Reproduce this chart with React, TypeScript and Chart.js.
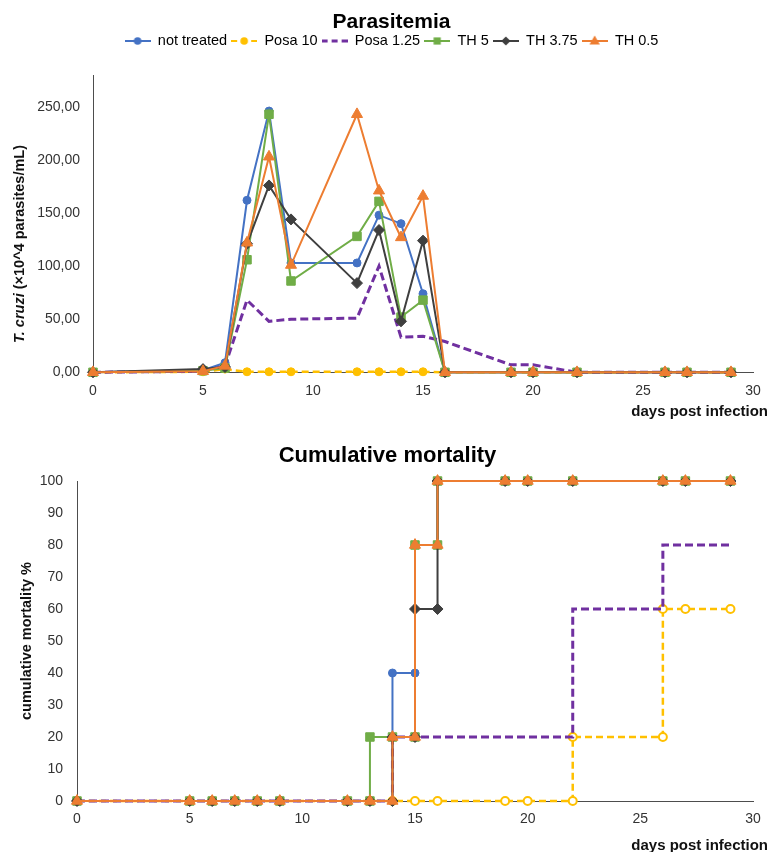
import React, { useEffect, useRef } from 'react';
import { Chart, registerables } from 'chart.js';

Chart.register(...registerables);

const FONT = "'Liberation Sans', Arial, Helvetica, sans-serif";

// ---------- series ----------
const seriesLabels = ['not treated', 'Posa 10', 'Posa 1.25', 'TH 5', 'TH 3.75', 'TH 0.5'];
const seriesColors = ['#4472C4', '#FFC000', '#7030A0', '#70AD47', '#3F3F3F', '#ED7D31'];

// ---------- parasitemia (x10^4 parasites/mL) ----------
const parasitemiaDays = [0, 5, 6, 7, 8, 9, 12, 13, 14, 15, 16, 19, 20, 22, 26, 27, 29];
const parNotTreated = [0, 2, 9, 162, 246, 103, 103, 148, 140, 74, 0, 0, 0, 0, 0, 0, 0];
const parPosa10 = [0, 0.5, 3, 0.5, 0.5, 0.5, 0.5, 0.5, 0.5, 0.5, 0, 0, 0, 0, 0, 0, 0];
const parPosa125 = [0, 1, 6, 68, 48, 50, 51, 100, 33, 34, 29, 7, 7, 0, 0, 0, 0];
const parTH5 = [0, 1.5, 4, 106, 243, 86, 128, 161, 52, 68, 0, 0, 0, 0, 0, 0, 0];
const parTH375 = [0, 3, 5, 121, 176, 144, 84, 134, 48, 124, 0, 0, 0, 0, 0, 0, 0];
const parTH05 = [0, 1, 6, 122, 203, 101, 243, 171, 127, 166, 0, 0, 0, 0, 0, 0, 0];
const parasitemiaTicks = [0, 50, 100, 150, 200, 250];

// ---------- cumulative mortality (%) ----------
const mortNotTreatedDays = [0, 5, 6, 7, 8, 9, 12, 13, 14, 14, 15, 15, 16, 16, 19, 20, 22, 26, 27, 29];
const mortNotTreated = [0, 0, 0, 0, 0, 0, 0, 0, 0, 40, 40, 80, 80, 100, 100, 100, 100, 100, 100, 100];
const mortPosa10Days = [0, 5, 6, 7, 8, 9, 12, 13, 14, 15, 16, 19, 20, 22, 22, 26, 26, 27, 29];
const mortPosa10 = [0, 0, 0, 0, 0, 0, 0, 0, 0, 0, 0, 0, 0, 0, 20, 20, 60, 60, 60];
const mortPosa125Days = [0, 5, 6, 7, 8, 9, 12, 13, 14, 14, 15, 16, 19, 20, 22, 22, 26, 26, 27, 29];
const mortPosa125 = [0, 0, 0, 0, 0, 0, 0, 0, 0, 20, 20, 20, 20, 20, 20, 60, 60, 80, 80, 80];
const mortTH5Days = [0, 5, 6, 7, 8, 9, 12, 13, 13, 14, 15, 15, 16, 16, 19, 20, 22, 26, 27, 29];
const mortTH5 = [0, 0, 0, 0, 0, 0, 0, 0, 20, 20, 20, 80, 80, 100, 100, 100, 100, 100, 100, 100];
const mortTH375Days = [0, 5, 6, 7, 8, 9, 12, 13, 14, 14, 15, 15, 16, 16, 19, 20, 22, 26, 27, 29];
const mortTH375 = [0, 0, 0, 0, 0, 0, 0, 0, 0, 20, 20, 60, 60, 100, 100, 100, 100, 100, 100, 100];
const mortTH05Days = [0, 5, 6, 7, 8, 9, 12, 13, 14, 14, 15, 15, 16, 16, 19, 20, 22, 26, 27, 29];
const mortTH05 = [0, 0, 0, 0, 0, 0, 0, 0, 0, 20, 20, 80, 80, 100, 100, 100, 100, 100, 100, 100];

const parSeries = [parNotTreated, parPosa10, parPosa125, parTH5, parTH375, parTH05];
const mortSeriesDays = [mortNotTreatedDays, mortPosa10Days, mortPosa125Days, mortTH5Days, mortTH375Days, mortTH05Days];
const mortSeries = [mortNotTreated, mortPosa10, mortPosa125, mortTH5, mortTH375, mortTH05];

// ---------- styles ----------
const markers: (string | null)[] = ['circle', 'circle', null, 'rect', 'rectRot', 'triangle'];
const markerRadius = [4, 4, 0, 6, 5.5, 6.4];
const lineWidths = [2, 2.5, 3, 2, 2, 2];
const lineDashes: number[][] = [[], [7, 4], [8, 4], [], [], []];

function makeIcon(color: string, dash: number[], lw: number, marker: string | null) {
  const c = document.createElement('canvas');
  c.width = 26;
  c.height = 14;
  const g = c.getContext('2d')!;
  g.strokeStyle = color;
  g.lineWidth = lw;
  g.setLineDash(dash.length ? [6, 4] : []);
  g.beginPath();
  g.moveTo(0, 7);
  g.lineTo(26, 7);
  g.stroke();
  g.setLineDash([]);
  g.fillStyle = color;
  const cx = 13, cy = 7;
  g.beginPath();
  if (marker === 'circle') g.arc(cx, cy, 3.8, 0, Math.PI * 2);
  else if (marker === 'rect') g.rect(cx - 3.6, cy - 3.6, 7.2, 7.2);
  else if (marker === 'rectRot') {
    g.moveTo(cx - 4.6, cy); g.lineTo(cx, cy - 4.6); g.lineTo(cx + 4.6, cy); g.lineTo(cx, cy + 4.6); g.closePath();
  } else if (marker === 'triangle') {
    g.moveTo(cx, cy - 5.5); g.lineTo(cx + 5.2, cy + 3.5); g.lineTo(cx - 5.2, cy + 3.5); g.closePath();
  }
  if (marker) g.fill();
  return c;
}

const titlesPlugin = {
  id: 'manualTitles',
  afterDraw(chart: any, _args: any, opts: any) {
    const ctx = chart.ctx;
    ctx.save();
    ctx.fillStyle = '#111';
    ctx.textBaseline = 'middle';
    // y title
    ctx.translate(opts.yX, opts.yY);
    ctx.rotate(-Math.PI / 2);
    ctx.textAlign = 'left';
    let total = 0;
    for (const p of opts.yParts) { ctx.font = p.font; total += ctx.measureText(p.text).width; }
    let x = -total / 2;
    for (const p of opts.yParts) { ctx.font = p.font; ctx.fillText(p.text, x, 0); x += ctx.measureText(p.text).width; }
    ctx.restore();
    // x title
    ctx.save();
    ctx.fillStyle = '#111';
    ctx.textBaseline = 'middle';
    ctx.textAlign = 'right';
    ctx.font = opts.xFont;
    ctx.fillText(opts.xText, opts.xRight, opts.xY);
    ctx.restore();
  },
};

function ParasitemiaChart() {
  const ref = useRef<HTMLCanvasElement>(null);
  useEffect(() => {
    const icons = seriesLabels.map((_, i) => makeIcon(seriesColors[i], lineDashes[i], i === 2 ? 3 : 2, markers[i]));
    const chart = new Chart(ref.current!, {
      type: 'line',
      data: {
        datasets: parSeries.map((vals, i) => ({
          label: seriesLabels[i],
          data: parasitemiaDays.map((d, k) => ({ x: d, y: vals[k] })),
          borderColor: seriesColors[i],
          backgroundColor: seriesColors[i],
          borderWidth: lineWidths[i],
          borderDash: lineDashes[i],
          pointStyle: (markers[i] || 'circle') as any,
          pointRadius: markerRadius[i],
          pointBorderWidth: 1,
          pointBackgroundColor: seriesColors[i],
          pointBorderColor: seriesColors[i],
          tension: 0,
          fill: false,
          order: 5 - i,
          clip: false as any,
        })),
      },
      options: {
        responsive: false,
        animation: false,
        events: [],
        layout: { padding: { left: 30, right: 18, top: 0, bottom: 0 } },
        plugins: {
          tooltip: { enabled: false },
          title: {
            display: true,
            text: 'Parasitemia',
            color: '#000',
            font: { family: FONT, size: 21, weight: 'bold' },
            padding: { top: 9.5, bottom: -5 },
          },
          subtitle: {
            display: true,
            text: '',
            weight: 500,
            font: { family: FONT, size: 10 },
            padding: { top: 0, bottom: 4.8 },
          } as any,
          legend: {
            display: true,
            position: 'top',
            labels: {
              usePointStyle: true,
              pointStyleWidth: 26,
              padding: 4,
              color: '#262626',
              font: { family: FONT, size: 14.5 },
              generateLabels: () =>
                seriesLabels.map((t, i) => ({
                  text: t,
                  pointStyle: icons[i] as any,
                  fillStyle: 'transparent',
                  strokeStyle: 'transparent',
                  lineWidth: 0,
                  hidden: false,
                  datasetIndex: i,
                })),
            },
          },
          manualTitles: {
            yX: 20,
            yY: 244,
            yParts: [
              { text: 'T. cruzi', font: `italic bold 14.5px ${FONT}` },
              { text: ' (×10^4 parasites/mL)', font: `bold 14.5px ${FONT}` },
            ],
            xText: 'days post infection',
            xFont: `bold 15px ${FONT}`,
            xRight: 768,
            xY: 412,
          },
        } as any,
        scales: {
          x: {
            type: 'linear',
            min: 0,
            max: 30,
            grid: { display: false, drawTicks: false },
            border: { display: true, color: '#4d4d4d', width: 1 },
            ticks: { stepSize: 5, padding: 10, color: '#333', font: { family: FONT, size: 14 } },
            afterFit: (s: any) => { s.height = 52.7; },
          },
          y: {
            type: 'linear',
            min: 0,
            max: 280,
            grid: { display: false, drawTicks: false },
            border: { display: true, color: '#4d4d4d', width: 1 },
            ticks: {
              color: '#333',
              padding: 13,
              font: { family: FONT, size: 14 },
              callback: (v: any) => Number(v).toFixed(2).replace('.', ','),
            },
            afterBuildTicks: (s: any) => { s.ticks = parasitemiaTicks.map((v) => ({ value: v })); },
            afterFit: (s: any) => { s.width = 63; },
          },
        },
      },
      plugins: [titlesPlugin],
    });
    return () => chart.destroy();
  }, []);
  return <canvas ref={ref} width={771} height={425} style={{ display: 'block', width: 771, height: 425 }} />;
}

function MortalityChart() {
  const ref = useRef<HTMLCanvasElement>(null);
  useEffect(() => {
    const chart = new Chart(ref.current!, {
      type: 'line',
      data: {
        datasets: mortSeries.map((vals, i) => ({
          label: seriesLabels[i],
          data: mortSeriesDays[i].map((d, k) => ({ x: d, y: vals[k] })),
          borderColor: seriesColors[i],
          backgroundColor: seriesColors[i],
          borderWidth: lineWidths[i],
          borderDash: lineDashes[i],
          pointStyle: (markers[i] || 'circle') as any,
          pointRadius: i === 1 ? 4 : markerRadius[i],
          pointBorderWidth: i === 1 ? 2 : 1,
          pointBackgroundColor: i === 1 ? '#ffffff' : seriesColors[i],
          pointBorderColor: seriesColors[i],
          tension: 0,
          fill: false,
          order: 5 - i,
          clip: false as any,
        })),
      },
      options: {
        responsive: false,
        animation: false,
        events: [],
        layout: { padding: { left: 22, right: 18, top: 0, bottom: 0 } },
        plugins: {
          tooltip: { enabled: false },
          legend: { display: false },
          title: {
            display: true,
            text: 'Cumulative mortality',
            color: '#000',
            font: { family: FONT, size: 22, weight: 'bold' },
            padding: { top: 17.3, bottom: 12.3 },
          },
          manualTitles: {
            yX: 27,
            yY: 216,
            yParts: [{ text: 'cumulative mortality %', font: `bold 14.5px ${FONT}` }],
            xText: 'days post infection',
            xFont: `bold 15px ${FONT}`,
            xRight: 768,
            xY: 421,
          },
        } as any,
        scales: {
          x: {
            type: 'linear',
            min: 0,
            max: 30,
            grid: { display: false, drawTicks: false },
            border: { display: true, color: '#4d4d4d', width: 1 },
            ticks: { stepSize: 5, padding: 10, color: '#333', font: { family: FONT, size: 14 } },
            afterFit: (s: any) => { s.height = 51; },
          },
          y: {
            type: 'linear',
            min: 0,
            max: 100,
            grid: { display: false, drawTicks: false },
            border: { display: true, color: '#4d4d4d', width: 1 },
            ticks: { stepSize: 10, padding: 14, color: '#333', font: { family: FONT, size: 14 } },
            afterFit: (s: any) => { s.width = 55; },
          },
        },
      },
      plugins: [titlesPlugin],
    });
    return () => chart.destroy();
  }, []);
  return <canvas ref={ref} width={771} height={427} style={{ display: 'block', width: 771, height: 427 }} />;
}

export default function App() {
  return (
    <div style={{ position: 'absolute', left: 0, top: 0, width: 771, height: 852, background: '#fff', overflow: 'hidden' }}>
      <ParasitemiaChart />
      <MortalityChart />
    </div>
  );
}
